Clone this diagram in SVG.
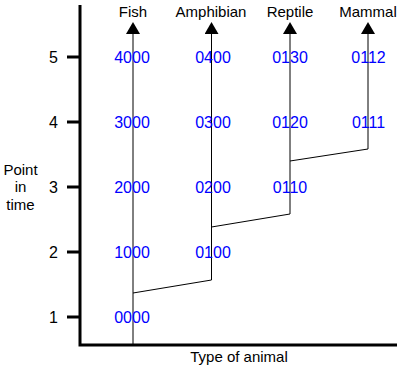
<svg xmlns="http://www.w3.org/2000/svg" width="400" height="368" viewBox="0 0 400 368">
<style>
text{font-family:"Liberation Sans",Arial,sans-serif;fill:#000}
.lbl{font-size:15px;text-anchor:middle}
.tick{font-size:16px;text-anchor:end}
.num{font-size:16px;fill:#0000ff;text-anchor:middle}
.axis{stroke:#000;stroke-width:3;fill:none}
.ln{stroke:#000;stroke-width:1;fill:none}
</style>
<defs>
<marker id="arr" markerUnits="userSpaceOnUse" markerWidth="12" markerHeight="14" refX="0" refY="7" orient="auto" viewBox="0 0 12 14">
<path d="M0,0 L12,7 L0,14 Z" fill="#000"/>
</marker>
</defs>
<g id="axes">
<path class="axis" d="M80,5 V345 H397"/>
<path class="axis" d="M67,57 H80 M67,122 H80 M67,187 H80 M67,252 H80 M67,317 H80"/>
<text class="tick" x="58" y="63">5</text>
<text class="tick" x="58" y="128">4</text>
<text class="tick" x="58" y="193">3</text>
<text class="tick" x="58" y="258">2</text>
<text class="tick" x="58" y="323">1</text>
<text class="lbl" x="20.5" y="175">Point</text>
<text class="lbl" x="20.5" y="192">in</text>
<text class="lbl" x="20.5" y="210">time</text>
<text class="lbl" x="239" y="362">Type of animal</text>
</g>
<g id="connectors">
<path class="ln" d="M133,345 V34" marker-end="url(#arr)"/>
<path class="ln" d="M211.5,280 V34" marker-end="url(#arr)"/>
<path class="ln" d="M290,214 V34" marker-end="url(#arr)"/>
<path class="ln" d="M368,149 V34" marker-end="url(#arr)"/>
<path class="ln" d="M133,293 L211.5,280"/>
<path class="ln" d="M211.5,227 L290,214"/>
<path class="ln" d="M290,161 L368,149"/>
</g>
<g id="fish">
<text class="lbl" x="133" y="17">Fish</text>
<text class="num" x="132" y="63">4000</text>
<text class="num" x="132" y="128">3000</text>
<text class="num" x="132" y="193">2000</text>
<text class="num" x="132" y="258">1000</text>
<text class="num" x="132" y="323">0000</text>
</g>
<g id="amphibian">
<text class="lbl" x="211" y="17">Amphibian</text>
<text class="num" x="213" y="63">0400</text>
<text class="num" x="213" y="128">0300</text>
<text class="num" x="213" y="193">0200</text>
<text class="num" x="213" y="258">0100</text>
</g>
<g id="reptile">
<text class="lbl" x="290" y="17">Reptile</text>
<text class="num" x="290" y="63">0130</text>
<text class="num" x="290" y="128">0120</text>
<text class="num" x="290" y="193">0110</text>
</g>
<g id="mammal">
<text class="lbl" x="368" y="17">Mammal</text>
<text class="num" x="368.5" y="63">0112</text>
<text class="num" x="368.5" y="128">0111</text>
</g>
</svg>
